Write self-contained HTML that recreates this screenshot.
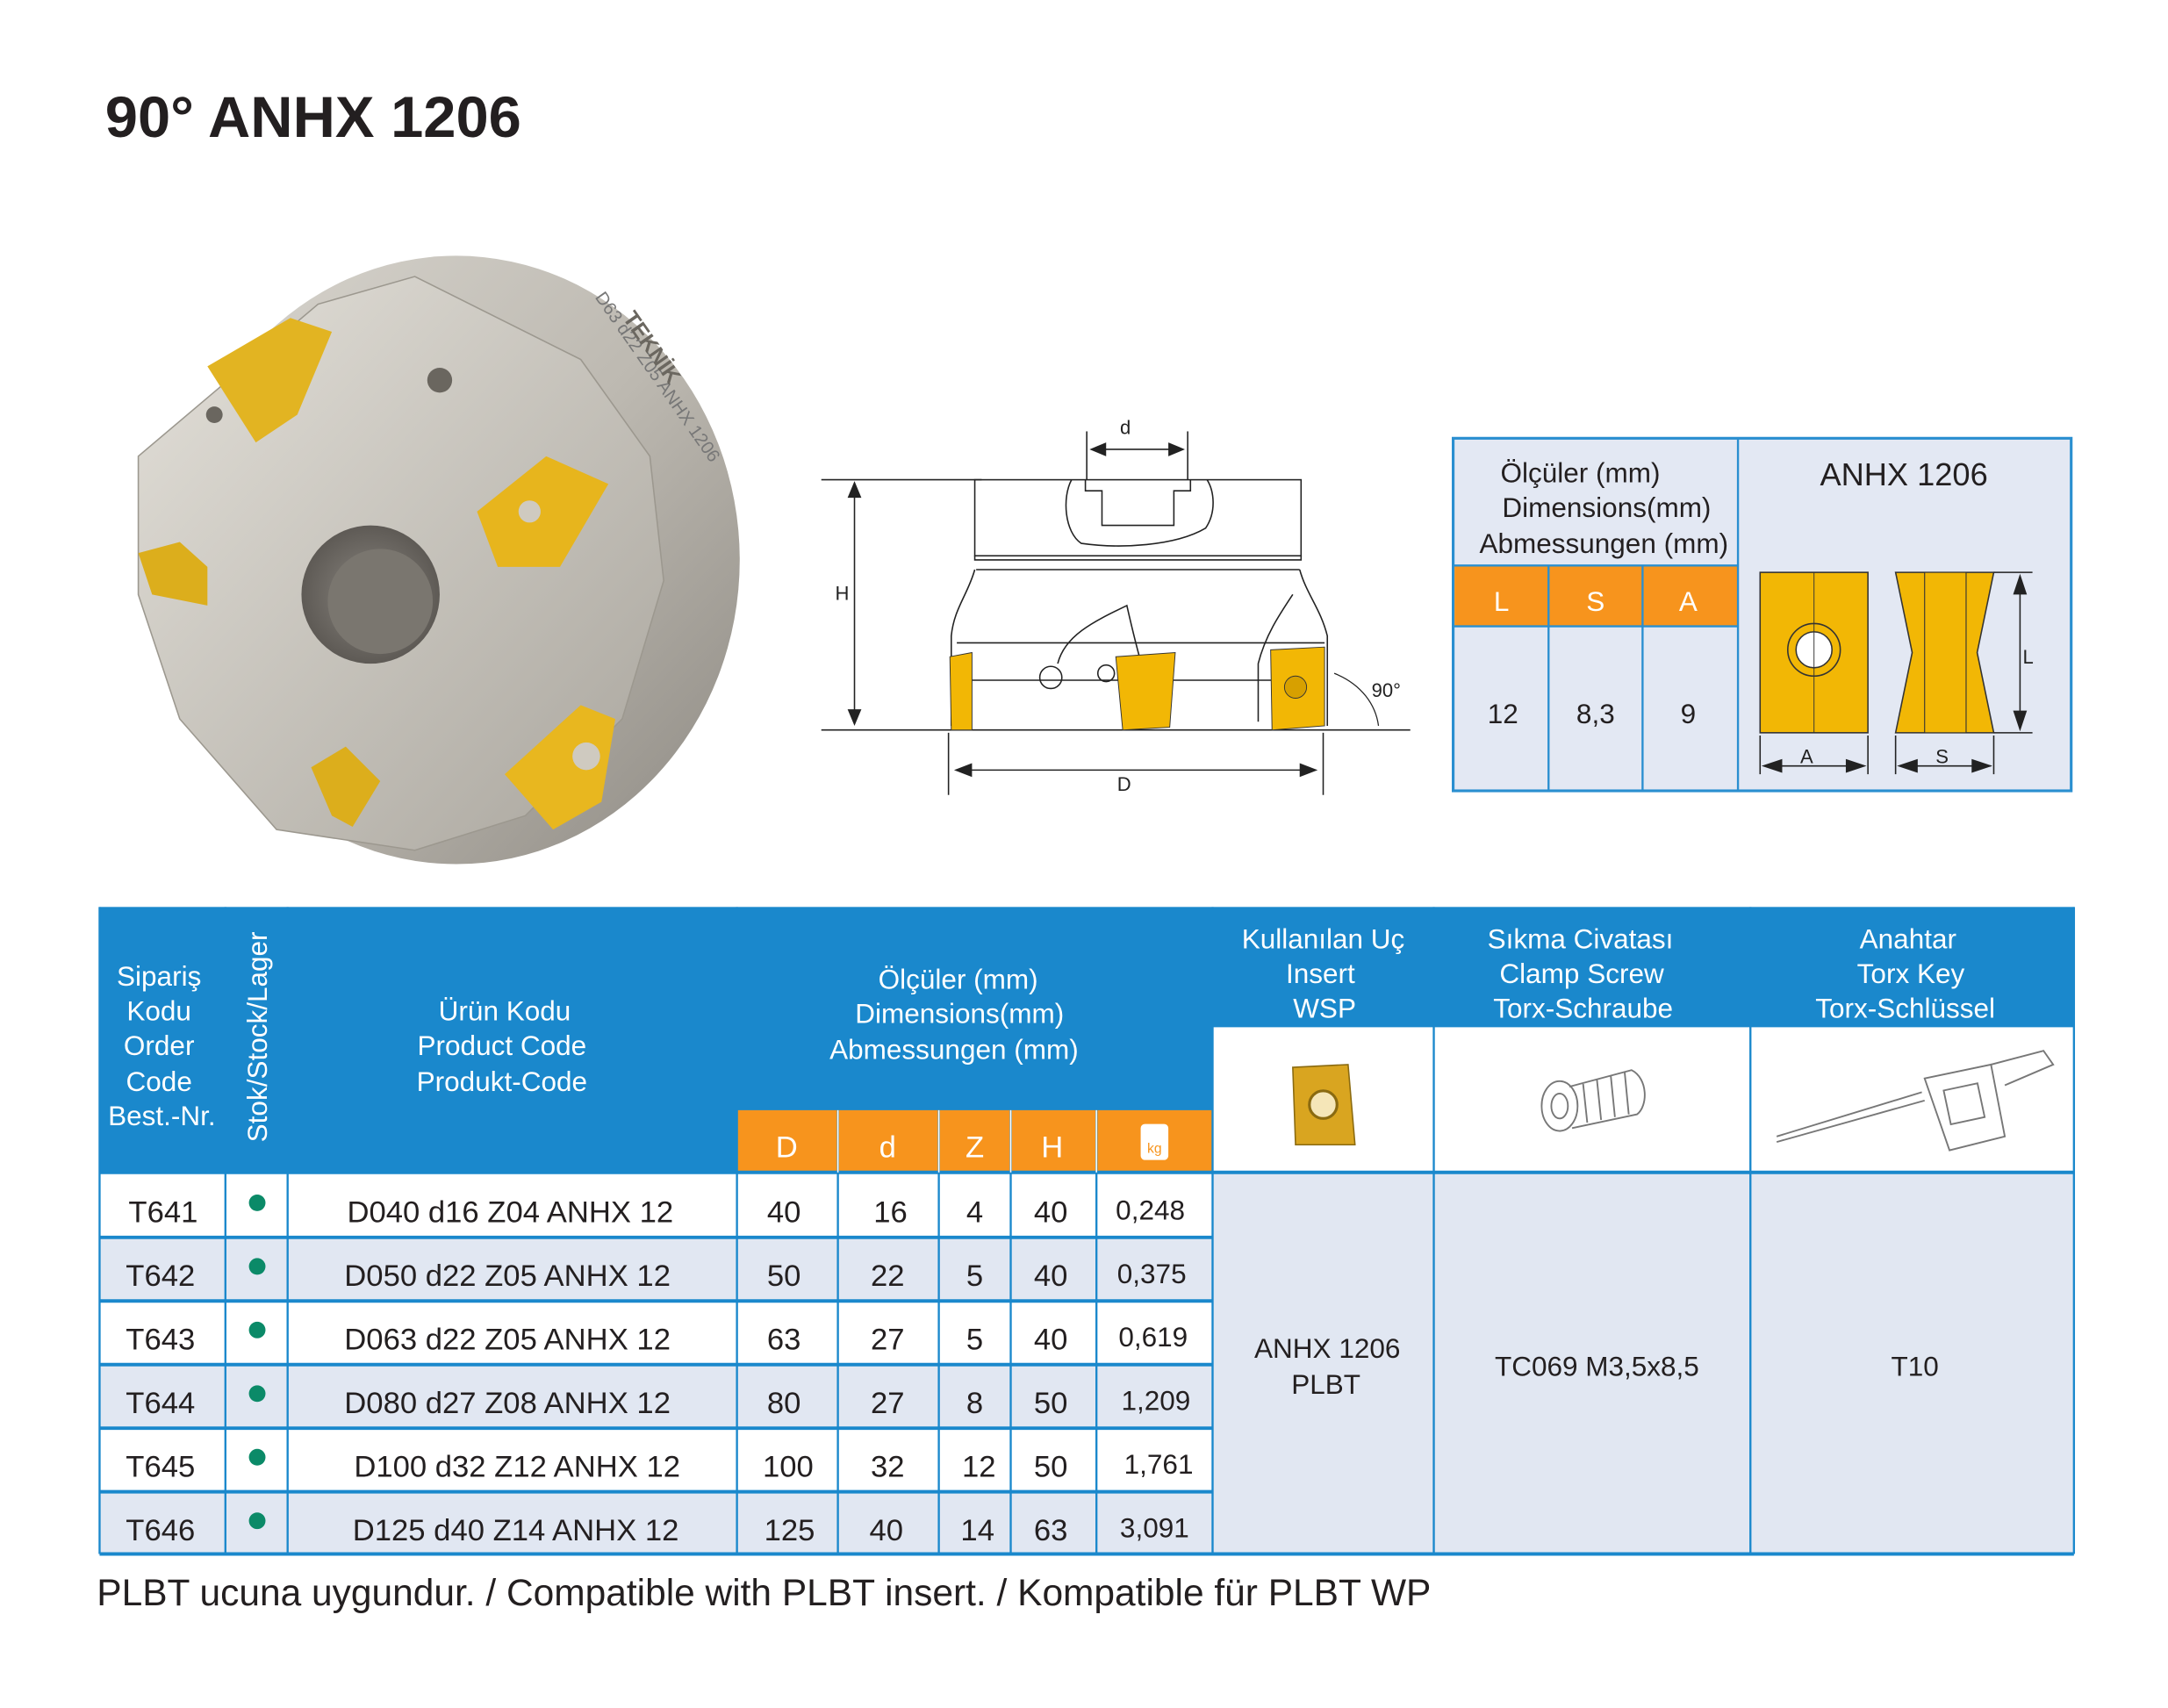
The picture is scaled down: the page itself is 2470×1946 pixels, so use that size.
<!DOCTYPE html>
<html><head><meta charset="utf-8"><style>
html,body{margin:0;padding:0;background:#fff}
svg{display:block}
text{font-family:"Liberation Sans",Arial,sans-serif}
</style></head><body>
<svg width="2470" height="1946" viewBox="0 0 1568 1235.4" xmlns="http://www.w3.org/2000/svg">
<defs>
<linearGradient id="gb" x1="0" y1="0" x2="1" y2="1"><stop offset="0" stop-color="#d9d6cf"/><stop offset="0.5" stop-color="#bdb9b1"/><stop offset="1" stop-color="#8e8a83"/></linearGradient>
<linearGradient id="gf" x1="0" y1="0" x2="1" y2="1"><stop offset="0" stop-color="#e4e1da"/><stop offset="1" stop-color="#a9a59d"/></linearGradient>
<radialGradient id="gh" cx="0.5" cy="0.5" r="0.5"><stop offset="0" stop-color="#8a8680"/><stop offset="1" stop-color="#5e5a55"/></radialGradient>
</defs>
<rect width="1568" height="1236" fill="#fff"/>
<text x="76" y="99" font-size="42" font-weight="bold" fill="#231f20" textLength="301" lengthAdjust="spacingAndGlyphs">90° ANHX 1206</text>

<!-- cutter photo -->
<g>
<ellipse cx="330" cy="405" rx="205" ry="220" fill="url(#gb)"/>
<path d="M100 330 L230 220 L300 200 L420 260 L470 330 L480 420 L450 520 L380 590 L300 615 L200 600 L130 520 L100 430 Z" fill="url(#gf)" stroke="#9c988f" stroke-width="1"/>
<circle cx="268" cy="430" r="50" fill="url(#gh)"/>
<circle cx="275" cy="435" r="38" fill="#7a766f"/>
<polygon points="150,265 210,230 240,240 215,300 185,320" fill="#e2b422"/>
<polygon points="345,370 395,330 440,350 405,410 360,410" fill="#e7b51d"/>
<polygon points="100,400 130,392 150,410 150,438 110,430" fill="#dcae1c"/>
<polygon points="225,555 250,540 275,565 255,598 240,590" fill="#dcae1c"/>
<polygon points="365,560 420,510 445,520 435,580 400,600" fill="#e8b71f"/>
<circle cx="424" cy="547" r="10" fill="#cfcac0"/>
<circle cx="383" cy="370" r="8" fill="#cfcac0"/>
<circle cx="318" cy="275" r="9" fill="#6a665f"/>
<circle cx="155" cy="300" r="6" fill="#6a665f"/>
<text x="430" y="215" font-size="13" fill="#777" transform="rotate(55 430 215)">D63 d22 Z05 ANHX 1206</text>
<text x="450" y="230" font-size="16" font-weight="bold" fill="#6b6760" transform="rotate(55 450 230)">TEKNİK</text>
</g>

<!-- technical drawing -->
<g fill="none" stroke="#222" stroke-width="1">
<line x1="594" y1="347" x2="710" y2="347"/>
<line x1="594" y1="528" x2="1020" y2="528"/>
<line x1="618" y1="352" x2="618" y2="522"/>
<line x1="786" y1="312" x2="786" y2="347"/>
<line x1="859" y1="312" x2="859" y2="347"/>
<line x1="791" y1="325" x2="854" y2="325"/>
<line x1="686" y1="530" x2="686" y2="575"/>
<line x1="957" y1="530" x2="957" y2="575"/>
<line x1="694" y1="557" x2="950" y2="557"/>
<rect x="705" y="347" width="236" height="55"/>
<path d="M785 347 L785 355 L797 355 L797 380 L849 380 L849 355 L861 355 L861 347"/>
<path d="M775 347 C768 360 770 385 782 393 C810 397 850 395 872 382 C880 370 878 355 873 347"/>
<path d="M705 402 L705 405 L941 405 L941 402 M706 412 L940 412 M705 412 C700 430 690 440 688 460 L688 525 M940 412 C945 430 955 440 960 460 L960 525"/>
<line x1="692" y1="465" x2="958" y2="465"/>
<line x1="692" y1="492" x2="958" y2="492"/>
<path d="M765 480 C770 460 790 450 815 438 C820 460 825 480 830 495 M935 430 C925 445 915 460 910 480 L910 522"/>
<circle cx="760" cy="490" r="8"/>
<circle cx="800" cy="487" r="6"/>
</g>
<g fill="#222">
<polygon points="618,348 613,360 623,360"/><polygon points="618,525 613,513 623,513"/>
<polygon points="788,325 800,320 800,330"/><polygon points="857,325 845,320 845,330"/>
<polygon points="690,557 703,552 703,562"/><polygon points="953,557 940,552 940,562"/>
</g>
<polygon points="687,475 703,472 703,528 688,528" fill="#f2b705" stroke="#333" stroke-width="0.6"/>
<polygon points="807,475 850,472 846,526 812,528" fill="#f2b705" stroke="#333" stroke-width="0.6"/>
<polygon points="919,470 958,468 958,525 920,528" fill="#f2b705" stroke="#333" stroke-width="0.6"/>
<circle cx="937" cy="497" r="8" fill="#d7a000" stroke="#333" stroke-width="0.6"/>
<path d="M965 487 C985 495 995 510 997 525" fill="none" stroke="#222" stroke-width="0.8"/>
<text x="604" y="434" font-size="14" fill="#222">H</text>
<text x="810" y="314" font-size="14" fill="#222">d</text>
<text x="808" y="572" font-size="14" fill="#222">D</text>
<text x="992" y="504" font-size="14" fill="#222">90°</text>

<!-- small dimension table -->
<rect x="1051" y="317" width="447" height="255" fill="#e3e8f3" stroke="#2a8fd0" stroke-width="2"/>
<rect x="1052" y="409" width="205" height="44" fill="#f7941d"/>
<g stroke="#2a8fd0" stroke-width="1.5">
<line x1="1257" y1="317" x2="1257" y2="572"/>
<line x1="1051" y1="409" x2="1257" y2="409"/>
<line x1="1051" y1="453" x2="1257" y2="453"/>
<line x1="1120" y1="409" x2="1120" y2="572"/>
<line x1="1188" y1="409" x2="1188" y2="572"/>
</g>
<g font-size="20" fill="#231f20" text-anchor="middle">
<text x="1143" y="349">Ölçüler (mm)</text>
<text x="1162" y="374">Dimensions(mm)</text>
<text x="1160" y="400">Abmessungen (mm)</text>
<text x="1377" y="351" font-size="23">ANHX 1206</text>
<text x="1087" y="523">12</text><text x="1154" y="523">8,3</text><text x="1221" y="523">9</text>
</g>
<g font-size="20" fill="#fff" text-anchor="middle"><text x="1086" y="442">L</text><text x="1154" y="442">S</text><text x="1221" y="442">A</text></g>
<rect x="1273" y="414" width="78" height="116" fill="#f2b705" stroke="#333" stroke-width="1"/>
<circle cx="1312" cy="470" r="19" fill="#f2b705" stroke="#333"/><circle cx="1312" cy="470" r="13" fill="#fff" stroke="#333"/>
<line x1="1312" y1="414" x2="1312" y2="530" stroke="#333" stroke-width="0.6"/>
<polygon points="1371,414 1442,414 1430,472 1442,530 1371,530 1383,472" fill="#f2b705" stroke="#333"/>
<rect x="1392" y="414" width="30" height="116" fill="#f2b705" stroke="#333" stroke-width="0.7"/>
<g stroke="#222" stroke-width="1" fill="#222">
<line x1="1442" y1="414" x2="1470" y2="414"/><line x1="1442" y1="530" x2="1470" y2="530"/>
<line x1="1461" y1="418" x2="1461" y2="526"/>
<polygon points="1461,415 1456,430 1466,430" stroke="none"/><polygon points="1461,529 1456,514 1466,514" stroke="none"/>
<line x1="1273" y1="532" x2="1273" y2="560"/><line x1="1351" y1="532" x2="1351" y2="560"/>
<line x1="1276" y1="554" x2="1348" y2="554"/>
<polygon points="1274,554 1289,549 1289,559" stroke="none"/><polygon points="1350,554 1335,549 1335,559" stroke="none"/>
<line x1="1371" y1="532" x2="1371" y2="560"/><line x1="1442" y1="532" x2="1442" y2="560"/>
<line x1="1374" y1="554" x2="1440" y2="554"/>
<polygon points="1372,554 1387,549 1387,559" stroke="none"/><polygon points="1441,554 1426,549 1426,559" stroke="none"/>
</g>
<text x="1463" y="480" font-size="14" fill="#222">L</text>
<text x="1302" y="552" font-size="14" fill="#222">A</text>
<text x="1400" y="552" font-size="14" fill="#222">S</text>

<!-- main table -->
<rect x="72" y="656" width="1428" height="192" fill="#1a88cc"/>
<rect x="533" y="803" width="344" height="45" fill="#f7941d"/>
<rect x="877" y="743" width="623" height="105" fill="#fff"/>
<rect x="72" y="848" width="805" height="47" fill="#fff"/>
<rect x="72" y="895" width="805" height="46" fill="#e1e7f2"/>
<rect x="72" y="941" width="805" height="46" fill="#fff"/>
<rect x="72" y="987" width="805" height="46" fill="#e1e7f2"/>
<rect x="72" y="1033" width="805" height="46" fill="#fff"/>
<rect x="72" y="1079" width="805" height="45" fill="#e1e7f2"/>
<rect x="877" y="848" width="623" height="276" fill="#e1e7f2"/>
<g stroke="#1a88cc" stroke-width="1.5">
<line x1="72" y1="656" x2="72" y2="1124"/><line x1="1500" y1="656" x2="1500" y2="1124"/>
<line x1="163" y1="656" x2="163" y2="1124"/><line x1="208" y1="656" x2="208" y2="1124"/>
<line x1="533" y1="656" x2="533" y2="1124"/>
<line x1="606" y1="803" x2="606" y2="1124"/><line x1="679" y1="803" x2="679" y2="1124"/>
<line x1="731" y1="803" x2="731" y2="1124"/><line x1="793" y1="803" x2="793" y2="1124"/>
<line x1="877" y1="656" x2="877" y2="1124"/><line x1="1037" y1="656" x2="1037" y2="1124"/>
<line x1="1266" y1="656" x2="1266" y2="1124"/>
<line x1="72" y1="1124" x2="1500" y2="1124" stroke-width="2.5"/>
<line x1="72" y1="848" x2="1500" y2="848" stroke-width="2.5"/>
</g>
<g stroke="#1a88cc" stroke-width="2.5">
<line x1="72" y1="895" x2="877" y2="895"/><line x1="72" y1="941" x2="877" y2="941"/>
<line x1="72" y1="987" x2="877" y2="987"/><line x1="72" y1="1033" x2="877" y2="1033"/>
<line x1="72" y1="1079" x2="877" y2="1079"/>
</g>
<g stroke="#fff" stroke-width="1"><line x1="606" y1="803" x2="606" y2="848"/><line x1="679" y1="803" x2="679" y2="848"/><line x1="731" y1="803" x2="731" y2="848"/><line x1="793" y1="803" x2="793" y2="848"/></g>
<g font-size="20" fill="#fff" text-anchor="middle">
<text x="115" y="713">Sipariş</text><text x="115" y="738">Kodu</text><text x="115" y="763">Order</text><text x="115" y="789">Code</text><text x="117" y="814">Best.-Nr.</text>
<text transform="translate(193 750) rotate(-90)" x="0" y="0">Stok/Stock/Lager</text>
<text x="365" y="738">Ürün Kodu</text><text x="363" y="763">Product Code</text><text x="363" y="789">Produkt-Code</text>
<text x="693" y="715">Ölçüler (mm)</text><text x="694" y="740">Dimensions(mm)</text><text x="690" y="766">Abmessungen (mm)</text>
<text x="957" y="686">Kullanılan Uç</text><text x="955" y="711">Insert</text><text x="958" y="736">WSP</text>
<text x="1143" y="686">Sıkma Civatası</text><text x="1144" y="711">Clamp Screw</text><text x="1145" y="736">Torx-Schraube</text>
<text x="1380" y="686">Anahtar</text><text x="1382" y="711">Torx Key</text><text x="1378" y="736">Torx-Schlüssel</text>
<text x="569" y="837" font-size="22">D</text><text x="642" y="837" font-size="22">d</text><text x="705" y="837" font-size="22">Z</text><text x="761" y="837" font-size="22">H</text>
</g>
<rect x="825" y="813" width="20" height="26" rx="3" fill="#fff"/><text x="835" y="834" font-size="10" fill="#f7941d" text-anchor="middle">kg</text>
<!-- insert, screw, key icons -->
<polygon points="935,772 975,770 980,828 937,828" fill="#d9a520" stroke="#8a6a10"/>
<circle cx="957" cy="799" r="10" fill="#f5e6b8" stroke="#8a6a10" stroke-width="2"/>
<g fill="none" stroke="#777" stroke-width="1.2">
<ellipse cx="1128" cy="800" rx="13" ry="18"/><ellipse cx="1128" cy="800" rx="6" ry="9"/>
<path d="M1135 786 L1180 774 C1192 780 1192 800 1184 806 L1137 816"/>
<path d="M1145 784 L1148 812 M1155 781 L1158 810 M1165 778 L1168 808 M1175 775 L1178 806"/>
<path d="M1285 822 L1390 790 M1285 826 L1392 796"/>
<path d="M1392 780 L1440 770 L1450 822 L1410 832 Z"/>
<rect x="1408" y="786" width="25" height="25" transform="rotate(-12 1420 798)"/>
<path d="M1440 770 L1478 760 L1485 770 L1450 785"/>
</g>
<g font-size="22" fill="#231f20" text-anchor="middle">
<text x="118" y="884">T641</text><text x="369" y="884">D040 d16 Z04 ANHX 12</text><text x="567" y="884">40</text><text x="644" y="884">16</text><text x="705" y="884">4</text><text x="760" y="884">40</text><text x="832" y="882" font-size="20">0,248</text>
<text x="116" y="930">T642</text><text x="367" y="930">D050 d22 Z05 ANHX 12</text><text x="567" y="930">50</text><text x="642" y="930">22</text><text x="705" y="930">5</text><text x="760" y="930">40</text><text x="833" y="928" font-size="20">0,375</text>
<text x="116" y="976">T643</text><text x="367" y="976">D063 d22 Z05 ANHX 12</text><text x="567" y="976">63</text><text x="642" y="976">27</text><text x="705" y="976">5</text><text x="760" y="976">40</text><text x="834" y="974" font-size="20">0,619</text>
<text x="116" y="1022">T644</text><text x="367" y="1022">D080 d27 Z08 ANHX 12</text><text x="567" y="1022">80</text><text x="642" y="1022">27</text><text x="705" y="1022">8</text><text x="760" y="1022">50</text><text x="836" y="1020" font-size="20">1,209</text>
<text x="116" y="1068">T645</text><text x="374" y="1068">D100 d32 Z12 ANHX 12</text><text x="570" y="1068">100</text><text x="642" y="1068">32</text><text x="708" y="1068">12</text><text x="760" y="1068">50</text><text x="838" y="1066" font-size="20">1,761</text>
<text x="116" y="1114">T646</text><text x="373" y="1114">D125 d40 Z14 ANHX 12</text><text x="571" y="1114">125</text><text x="641" y="1114">40</text><text x="707" y="1114">14</text><text x="760" y="1114">63</text><text x="835" y="1112" font-size="20">3,091</text>
<text x="960" y="982" font-size="20">ANHX 1206</text><text x="959" y="1008" font-size="20">PLBT</text>
<text x="1155" y="995" font-size="20">TC069 M3,5x8,5</text>
<text x="1385" y="995" font-size="20">T10</text>
</g>
<g fill="#0b8a68"><circle cx="186" cy="870" r="6"/><circle cx="186" cy="916" r="6"/><circle cx="186" cy="962" r="6"/><circle cx="186" cy="1008" r="6"/><circle cx="186" cy="1054" r="6"/><circle cx="186" cy="1100" r="6"/></g>
<text x="70" y="1161" font-size="27" fill="#231f20" textLength="965" lengthAdjust="spacingAndGlyphs">PLBT ucuna uygundur. / Compatible with PLBT insert. / Kompatible für PLBT WP</text>
</svg>
</body></html>
